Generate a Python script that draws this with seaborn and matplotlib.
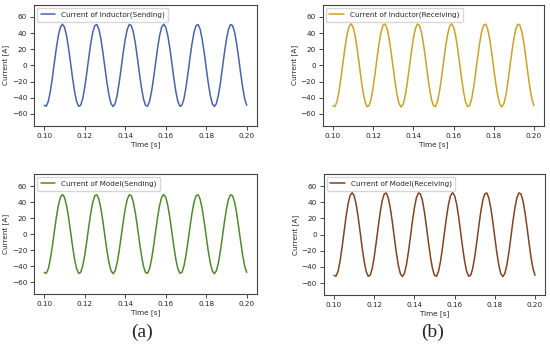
import numpy as np
import pandas as pd
import seaborn as sns
import matplotlib
matplotlib.use("Agg")
import matplotlib.pyplot as plt

# =========================
# データ (0.100 s ~ 0.200 s, 1 ms 間隔)
# =========================

time_s = np.round(np.linspace(0.100, 0.200, 101), 3)

inductor_sending = [
    -49.4, -50.6, -44.7, -32.5, -15.8, 3.2, 21.7, 37.2, 47.4, 51.0,
    47.4, 37.2, 21.7, 3.2, -15.8, -32.5, -44.7, -50.6, -49.4, -41.3,
    -27.3, -9.6, 9.6, 27.3, 41.3, 49.4, 50.6, 44.7, 32.5, 15.8,
    -3.2, -21.7, -37.2, -47.4, -51.0, -47.4, -37.2, -21.7, -3.2, 15.8,
    32.5, 44.7, 50.6, 49.4, 41.3, 27.3, 9.6, -9.6, -27.3, -41.3,
    -49.4, -50.6, -44.7, -32.5, -15.8, 3.2, 21.7, 37.2, 47.4, 51.0,
    47.4, 37.2, 21.7, 3.2, -15.8, -32.5, -44.7, -50.6, -49.4, -41.3,
    -27.3, -9.6, 9.6, 27.3, 41.3, 49.4, 50.6, 44.7, 32.5, 15.8,
    -3.2, -21.7, -37.2, -47.4, -51.0, -47.4, -37.2, -21.7, -3.2, 15.8,
    32.5, 44.7, 50.6, 49.4, 41.3, 27.3, 9.6, -9.6, -27.3, -41.3,
    -49.4,
]

inductor_receiving = [
    -49.9, -51.1, -45.1, -32.8, -15.9, 3.2, 21.9, 37.5, 47.9, 51.5,
    47.9, 37.5, 21.9, 3.2, -15.9, -32.8, -45.1, -51.1, -49.9, -41.7,
    -27.6, -9.7, 9.7, 27.6, 41.7, 49.9, 51.1, 45.1, 32.8, 15.9,
    -3.2, -21.9, -37.5, -47.9, -51.5, -47.9, -37.5, -21.9, -3.2, 15.9,
    32.8, 45.1, 51.1, 49.9, 41.7, 27.6, 9.7, -9.7, -27.6, -41.7,
    -49.9, -51.1, -45.1, -32.8, -15.9, 3.2, 21.9, 37.5, 47.9, 51.5,
    47.9, 37.5, 21.9, 3.2, -15.9, -32.8, -45.1, -51.1, -49.9, -41.7,
    -27.6, -9.7, 9.7, 27.6, 41.7, 49.9, 51.1, 45.1, 32.8, 15.9,
    -3.2, -21.9, -37.5, -47.9, -51.5, -47.9, -37.5, -21.9, -3.2, 15.9,
    32.8, 45.1, 51.1, 49.9, 41.7, 27.6, 9.7, -9.7, -27.6, -41.7,
    -49.9,
]

model_sending = [
    -47.9, -49.1, -43.4, -31.6, -15.3, 3.1, 21.1, 36.1, 46.0, 49.5,
    46.0, 36.1, 21.1, 3.1, -15.3, -31.6, -43.4, -49.1, -47.9, -40.0,
    -26.5, -9.3, 9.3, 26.5, 40.0, 47.9, 49.1, 43.4, 31.6, 15.3,
    -3.1, -21.1, -36.1, -46.0, -49.5, -46.0, -36.1, -21.1, -3.1, 15.3,
    31.6, 43.4, 49.1, 47.9, 40.0, 26.5, 9.3, -9.3, -26.5, -40.0,
    -47.9, -49.1, -43.4, -31.6, -15.3, 3.1, 21.1, 36.1, 46.0, 49.5,
    46.0, 36.1, 21.1, 3.1, -15.3, -31.6, -43.4, -49.1, -47.9, -40.0,
    -26.5, -9.3, 9.3, 26.5, 40.0, 47.9, 49.1, 43.4, 31.6, 15.3,
    -3.1, -21.1, -36.1, -46.0, -49.5, -46.0, -36.1, -21.1, -3.1, 15.3,
    31.6, 43.4, 49.1, 47.9, 40.0, 26.5, 9.3, -9.3, -26.5, -40.0,
    -47.9,
]

model_receiving = [
    -50.4, -51.6, -45.6, -33.1, -16.1, 3.3, 22.1, 37.9, 48.3, 52.0,
    48.3, 37.9, 22.1, 3.3, -16.1, -33.1, -45.6, -51.6, -50.4, -42.1,
    -27.9, -9.7, 9.7, 27.9, 42.1, 50.4, 51.6, 45.6, 33.1, 16.1,
    -3.3, -22.1, -37.9, -48.3, -52.0, -48.3, -37.9, -22.1, -3.3, 16.1,
    33.1, 45.6, 51.6, 50.4, 42.1, 27.9, 9.7, -9.7, -27.9, -42.1,
    -50.4, -51.6, -45.6, -33.1, -16.1, 3.3, 22.1, 37.9, 48.3, 52.0,
    48.3, 37.9, 22.1, 3.3, -16.1, -33.1, -45.6, -51.6, -50.4, -42.1,
    -27.9, -9.7, 9.7, 27.9, 42.1, 50.4, 51.6, 45.6, 33.1, 16.1,
    -3.3, -22.1, -37.9, -48.3, -52.0, -48.3, -37.9, -22.1, -3.3, 16.1,
    33.1, 45.6, 51.6, 50.4, 42.1, 27.9, 9.7, -9.7, -27.9, -42.1,
    -50.4,
]

labels = [
    'Current of Inductor(Sending)',
    'Current of Inductor(Receiving)',
    'Current of Model(Sending)',
    'Current of Model(Receiving)',
]
colors = ['#4a62a8', '#c9a227', '#4f8a2c', '#7f4424']
series = [inductor_sending, inductor_receiving, model_sending, model_receiving]

# =========================
# 描画
# =========================

sns.set_style('ticks')
plt.rcParams['font.family'] = ['DejaVu Sans']

fig = plt.figure(figsize=(5.5, 3.46), dpi=100)

axes_pos = [
    [0.062, 0.636, 0.405, 0.350],
    [0.587, 0.636, 0.402, 0.350],
    [0.062, 0.150, 0.405, 0.347],
    [0.589, 0.147, 0.402, 0.350],
]

fs = 5.2

for pos, vals, lab, col in zip(axes_pos, series, labels, colors):
    ax = fig.add_axes(pos)
    df = pd.DataFrame({'Time': time_s, 'Current': vals})
    sns.lineplot(data=df, x='Time', y='Current', color=col, linewidth=1.1,
                 label=lab, ax=ax)
    ax.set_ylim(-75, 75)
    ax.set_yticks([-60, -40, -20, 0, 20, 40, 60])
    ax.set_xticks([0.10, 0.12, 0.14, 0.16, 0.18, 0.20])
    ax.set_xticklabels(['0.10', '0.12', '0.14', '0.16', '0.18', '0.20'])
    ax.tick_params(labelsize=fs, length=3, width=0.6, pad=2)
    ax.set_xlabel('Time [s]', fontsize=fs, labelpad=1.5)
    ax.set_ylabel('Current [A]', fontsize=fs, labelpad=2)
    for s in ax.spines.values():
        s.set_linewidth(0.8)
        s.set_color('#444444')
    ax.legend(loc='upper left', fontsize=fs, frameon=True, borderpad=0.5,
              handlelength=2.0, borderaxespad=0.4)

fig.text(0.258, 0.040, '(a)', fontsize=14, ha='center', va='center',
         family=['Liberation Serif', 'DejaVu Serif'])
fig.text(0.786, 0.040, '(b)', fontsize=14, ha='center', va='center',
         family=['Liberation Serif', 'DejaVu Serif'])

fig.savefig('out.png', dpi=100)
